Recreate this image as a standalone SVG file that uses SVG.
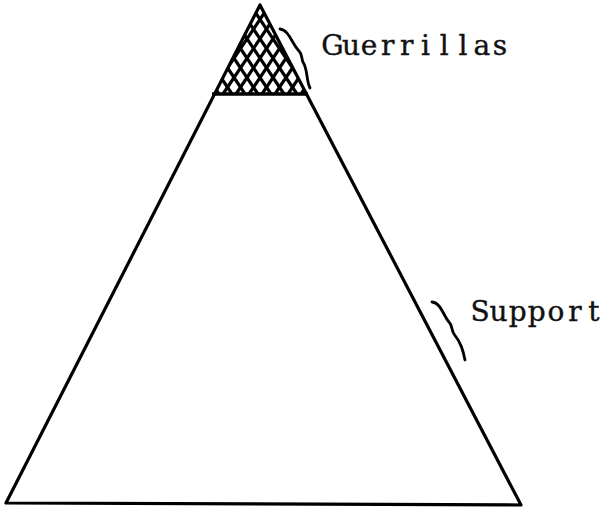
<svg xmlns="http://www.w3.org/2000/svg" width="606" height="509" viewBox="0 0 606 509">
<style>
.edge{fill:none;stroke:#000;stroke-width:3.2;stroke-linejoin:round}
.hatch{stroke:#000;stroke-width:3.2}
.brace{fill:none;stroke:#000;stroke-width:2.8;stroke-linecap:round}
.lbl{font-family:"DejaVu Serif","Liberation Serif",serif;font-size:28px;fill:#111;stroke:#111;stroke-width:0.4;text-anchor:middle}
</style>
<defs>
<clipPath id="top"><polygon points="260,5 214,94 306,94"/></clipPath>
</defs>
<rect width="606" height="509" fill="#fff"/>
<g id="pyramid">
<polygon class="edge" points="260,5 6,503 521,505"/>
</g>
<g id="guerrillas">
<g clip-path="url(#top)">
<g class="hatch">
<line x1="156" y1="0" x2="219" y2="94"/><line x1="169" y1="0" x2="232" y2="94"/><line x1="182" y1="0" x2="245" y2="94"/><line x1="195" y1="0" x2="258" y2="94"/><line x1="208" y1="0" x2="271" y2="94"/><line x1="221" y1="0" x2="284" y2="94"/><line x1="234" y1="0" x2="297" y2="94"/><line x1="247" y1="0" x2="310" y2="94"/><line x1="260" y1="0" x2="323" y2="94"/><line x1="273" y1="0" x2="336" y2="94"/>
<line x1="221" y1="0" x2="158" y2="94"/><line x1="234" y1="0" x2="171" y2="94"/><line x1="247" y1="0" x2="184" y2="94"/><line x1="260" y1="0" x2="197" y2="94"/><line x1="273" y1="0" x2="210" y2="94"/><line x1="286" y1="0" x2="223" y2="94"/><line x1="299" y1="0" x2="236" y2="94"/><line x1="312" y1="0" x2="249" y2="94"/><line x1="325" y1="0" x2="262" y2="94"/><line x1="338" y1="0" x2="275" y2="94"/><line x1="351" y1="0" x2="288" y2="94"/><line x1="364" y1="0" x2="301" y2="94"/>
</g>
</g>
<line x1="212" y1="94" x2="308" y2="94" stroke="#000" stroke-width="3.4"/>
<path class="brace" d="M280,29 C289,30 292,44 299,51 C303,55 301,58 303,62 C308,70 306,80 310,88"/>
<text class="lbl" x="332.5 351 369 387.8 406.6 425.4 444.2 463 481.8 500" y="55">Guerrillas</text>
</g>
<g id="support">
<path class="brace" d="M432,302 C441,303 443,315 449,322 C453,326 451,330 454,334 C461,343 463,350 465,360"/>
<text class="lbl" x="480 498.6 517.7 536.8 555.9 575 594" y="321">Support</text>
</g>
</svg>
